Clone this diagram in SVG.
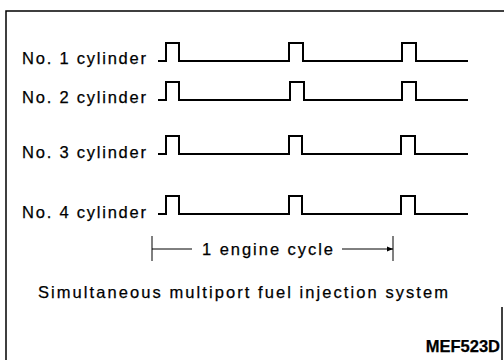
<svg xmlns="http://www.w3.org/2000/svg" width="504" height="360" viewBox="0 0 504 360">
<style>
.t{font-family:"Liberation Sans",Arial,sans-serif;font-size:16.5px;fill:#000;stroke:#000;stroke-width:0.25}
.w{fill:none;stroke:#000;stroke-width:2;stroke-linejoin:miter}
.b{fill:none;stroke:#000;stroke-width:1.5}
.d{fill:none;stroke:#000;stroke-width:1}
</style>
<defs>
<marker id="ah" viewBox="0 0 10 10" refX="10" refY="5" markerWidth="10" markerHeight="6" orient="auto" markerUnits="userSpaceOnUse">
<path d="M0,1 L10,5 L0,9 z" fill="#000"/>
</marker>
</defs>
<rect width="504" height="360" fill="#fff"/>
<g id="frame">
<path class="b" d="M6,360 V11 H504"/>
<path class="b" d="M502,307 V360"/>
</g>
<g id="cyl1">
<text class="t" x="22" y="64" textLength="124" lengthAdjust="spacing">No. 1 cylinder</text>
<path class="w" d="M158,61 H166 V43 H179 V61 H289 V43 H303 V61 H402 V43 H416 V61 H468"/>
</g>
<g id="cyl2">
<text class="t" x="22" y="103" textLength="124" lengthAdjust="spacing">No. 2 cylinder</text>
<path class="w" d="M158,100 H166 V82 H179 V100 H290 V82 H304 V100 H402 V82 H416 V100 H468"/>
</g>
<g id="cyl3">
<text class="t" x="22" y="158" textLength="124" lengthAdjust="spacing">No. 3 cylinder</text>
<path class="w" d="M158,154 H166 V136 H179 V154 H289 V136 H302 V154 H401 V136 H415 V154 H468"/>
</g>
<g id="cyl4">
<text class="t" x="22" y="218" textLength="124" lengthAdjust="spacing">No. 4 cylinder</text>
<path class="w" d="M158,214 H166 V196 H179 V214 H289 V196 H302 V214 H401 V196 H415 V214 H468"/>
</g>
<g id="connectors">
<path class="d" d="M152,236 V261"/>
<path class="d" d="M393,236 V261"/>
<path class="d" d="M152,249 H192"/>
<path class="d" d="M342,249 H393" marker-end="url(#ah)"/>
</g>
<g id="cycle-label">
<text class="t" x="202" y="255" textLength="131" lengthAdjust="spacing">1 engine cycle</text>
</g>
<g id="caption">
<text class="t" x="38" y="298" textLength="410" lengthAdjust="spacing">Simultaneous multiport fuel injection system</text>
</g>
<g id="code">
<text class="t" x="500" y="352" font-weight="bold" font-size="14" text-anchor="end">MEF523D</text>
</g>
</svg>
